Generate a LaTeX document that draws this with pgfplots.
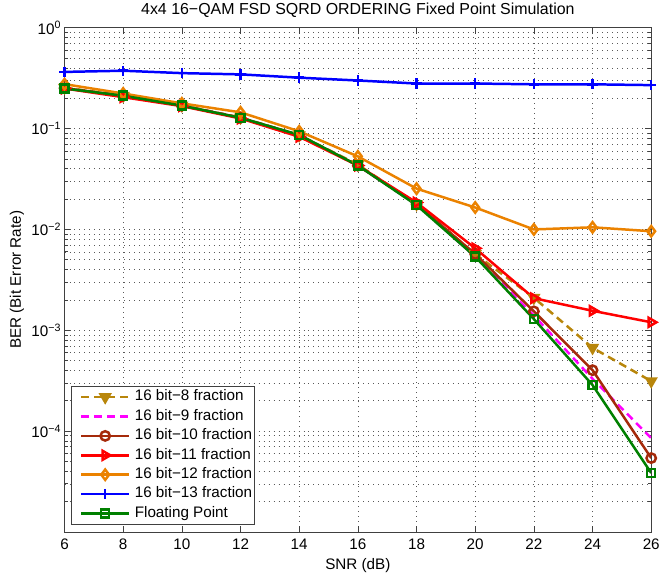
\documentclass[border=0pt]{standalone}
\usepackage{fontspec}
\setmainfont{Liberation Sans}
\usepackage{pgfplots}
\pgfplotsset{compat=1.18}

\definecolor{colE}{RGB}{184,134,11}
\definecolor{colN}{RGB}{255,0,255}
\definecolor{colT}{RGB}{165,42,10}
\definecolor{colEl}{RGB}{255,0,0}
\definecolor{colTw}{RGB}{235,130,0}
\definecolor{colTh}{RGB}{0,0,255}
\definecolor{colFl}{RGB}{0,128,0}

\begin{document}
\begin{tikzpicture}
% fixed page size, 1px = 1bp
\path (-64.8bp,-44bp) rectangle (598.2bp,533bp);
\begin{axis}[
  scale only axis,
  width=589.2bp, height=506.3bp,
  at={(0,0)}, anchor=south west,
  ymode=log,
  xmin=6, xmax=26, ymin=1e-5, ymax=1,
  xtick={6,8,...,26},
  ytick={1e-4,1e-3,1e-2,1e-1,1},
  yticklabels={10\textsuperscript{−4},10\textsuperscript{−3},10\textsuperscript{−2},10\textsuperscript{−1},10\textsuperscript{0}},
  minor ytick={2e-5,3e-5,4e-5,5e-5,6e-5,7e-5,8e-5,9e-5,
               2e-4,3e-4,4e-4,5e-4,6e-4,7e-4,8e-4,9e-4,
               2e-3,3e-3,4e-3,5e-3,6e-3,7e-3,8e-3,9e-3,
               2e-2,3e-2,4e-2,5e-2,6e-2,7e-2,8e-2,9e-2,
               2e-1,3e-1,4e-1,5e-1,6e-1,7e-1,8e-1,9e-1},
  /pgf/number format/assume math mode=true,
  tick label style={font=\fontsize{15.3bp}{17bp}\selectfont},
  xticklabel style={anchor=base, yshift=-18bp},
  xmajorgrids, ymajorgrids, yminorgrids,
  major grid style={dash pattern=on 1bp off 4bp, black!65, line width=0.6bp},
  minor grid style={dash pattern=on 1bp off 4bp, black!65, line width=0.6bp},
  axis line style={black!75, line width=0.8bp},
  tick style={black!75, line width=0.7bp},
  tick align=inside,
  major tick length=6bp, minor tick length=3bp,
  title={4x4 16−QAM FSD SQRD ORDERING Fixed Point Simulation},
  title style={font=\fontsize{16bp}{18bp}\selectfont, at={(axis description cs:0.5,1)}, anchor=base, yshift=7bp},
  xlabel={SNR (dB)},
  xlabel style={font=\fontsize{15.3bp}{17bp}\selectfont, at={(axis description cs:0.5,0)}, anchor=base, yshift=-38bp},
  ylabel={BER (Bit Error Rate)},
  ylabel style={font=\fontsize{15.3bp}{17bp}\selectfont, at={(axis description cs:-0.0743,0.5)}, anchor=base, rotate=0},
  legend cell align=left,
  legend style={at={(axis description cs:0.0105,0.0144)}, anchor=south west,
    font=\fontsize{15.3bp}{17bp}\selectfont, draw=black!75, line width=0.8bp,
    inner xsep=1bp, inner ysep=2bp,
    nodes={inner sep=1.5bp, text height=11bp, text depth=3.5bp},
    row sep=2bp},
  legend image code/.code={%
    \path (-8bp,0bp);
    \draw[mark repeat=2, mark phase=2, #1] plot coordinates {(0bp,0bp) (24bp,0bp) (48bp,0bp)};
    \path (51bp,0bp);},
  every axis plot/.append style={line width=2.5bp},
]
\addplot[colE, dash pattern=on 8bp off 5bp, mark=triangle*, mark size=5.2bp,
  mark options={solid, rotate=180, fill=colE}] coordinates {
  (6,0.255) (8,0.212) (10,0.170) (12,0.129) (14,0.086) (16,0.044)
  (18,0.0178) (20,0.0057) (22,0.0021) (24,0.00067) (26,0.000313)};
\addlegendentry{16 bit−8 fraction}
\addplot[colN, dash pattern=on 8bp off 5bp] coordinates {
  (6,0.250) (8,0.211) (10,0.169) (12,0.128) (14,0.086) (16,0.043)
  (18,0.0176) (20,0.0054) (22,0.0014) (24,0.00033) (26,0.000085)};
\addlegendentry{16 bit−9 fraction}
\addplot[colT, mark=o, mark size=4.7bp, mark options={solid}] coordinates {
  (6,0.252) (8,0.212) (10,0.169) (12,0.128) (14,0.086) (16,0.043)
  (18,0.0178) (20,0.0057) (22,0.00154) (24,0.000402) (26,0.000054)};
\addlegendentry{16 bit−10 fraction}
\addplot[colEl, mark=triangle, mark size=5.2bp, mark options={solid, rotate=-90}] coordinates {
  (6,0.250) (8,0.205) (10,0.167) (12,0.126) (14,0.083) (16,0.043)
  (18,0.0185) (20,0.0065) (22,0.00208) (24,0.00156) (26,0.0012)};
\addlegendentry{16 bit−11 fraction}
\addplot[colTw, mark=diamond, mark size=5.2bp, mark options={solid}] coordinates {
  (6,0.276) (8,0.223) (10,0.178) (12,0.145) (14,0.094) (16,0.053)
  (18,0.0254) (20,0.0165) (22,0.0100) (24,0.0105) (26,0.0096)};
\addlegendentry{16 bit−12 fraction}
\addplot[colTh, mark=+, mark size=5.2bp, mark options={solid}] coordinates {
  (6,0.365) (8,0.375) (10,0.355) (12,0.345) (14,0.320) (16,0.300)
  (18,0.280) (20,0.280) (22,0.275) (24,0.275) (26,0.270)};
\addlegendentry{16 bit−13 fraction}
\addplot[colFl, mark=square, mark size=4bp, mark options={solid}] coordinates {
  (6,0.250) (8,0.212) (10,0.169) (12,0.128) (14,0.0867) (16,0.0431)
  (18,0.0174) (20,0.00537) (22,0.00129) (24,0.000286) (26,0.0000384)};
\addlegendentry{Floating Point}
\end{axis}
\end{tikzpicture}
\end{document}
